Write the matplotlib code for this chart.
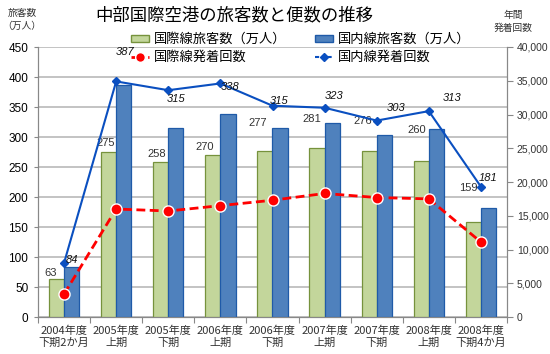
import matplotlib
matplotlib.use('Agg')
import matplotlib.pyplot as plt
from matplotlib.lines import Line2D
from matplotlib.patches import Patch

plt.rcParams['font.family'] = ['Liberation Sans', 'Noto Sans CJK JP']

# ---- data ----
categories = ['2004年度\n下期2か月', '2005年度\n上期', '2005年度\n下期',
              '2006年度\n上期', '2006年度\n下期', '2007年度\n上期',
              '2007年度\n下期', '2008年度\n上期', '2008年度\n下期4か月']
intl_pax = [63, 275, 258, 270, 277, 281, 276, 260, 159]        # 万人
dom_pax = [84, 387, 315, 338, 315, 323, 303, 313, 181]         # 万人
intl_flights = [3400, 16000, 15700, 16500, 17300, 18300, 17700, 17500, 11100]
dom_flights = [8000, 34900, 33600, 34600, 31300, 31000, 29100, 30500, 19300]

# label nudges (pixels) - the original labels were dragged by hand
intl_lbl_off = [(-6, 6), (-3, 9), (-4, 8), (-8, 8), (-7, 28),
                (-5, 29), (-6, 30), (-5, 31), (-5, 34)]
dom_lbl_off = [(8, 3), (9, 29), (8, -9), (10, -4), (7, 5),
               (9, 12), (19, 13), (23, 13), (7, 9)]

c_green, c_green_edge = '#c3d69b', '#76923c'
c_blue, c_blue_edge = '#4f81bd', '#1f5aa8'
c_red = '#ff0000'
c_line_blue = '#0a4fc0'
cjk = ['Noto Sans CJK JP']

fig = plt.figure(figsize=(5.5, 3.54), dpi=100)
ax = fig.add_axes([38 / 550, 37 / 354, 469 / 550, 270 / 354])
ax2 = ax.twinx()

x = list(range(len(categories)))
w = 0.29
ax.bar([i - w / 2 for i in x], intl_pax, width=w, color=c_green,
       edgecolor=c_green_edge, linewidth=0.9, zorder=3)
ax.bar([i + w / 2 for i in x], dom_pax, width=w, color=c_blue,
       edgecolor=c_blue_edge, linewidth=0.9, zorder=3)

ax.set_ylim(0, 450)
ax.set_yticks(range(0, 451, 50))
ax.set_xlim(-0.5, len(categories) - 0.5)
ax.yaxis.grid(True, color='#b3b3b3', linewidth=1.1, zorder=0)
ax.set_axisbelow(True)

# category boundaries carry the tick marks, centres carry the labels
ax.set_xticks([i - 0.5 for i in range(len(categories) + 1)])
ax.set_xticklabels([])
ax.set_xticks(x, minor=True)
ax.set_xticklabels(categories, minor=True, family=cjk, fontsize=8,
                   color='#333333', linespacing=1.25)
ax.tick_params(axis='x', which='major', length=4, color='#888888')
ax.tick_params(axis='x', which='minor', length=0, pad=6)
ax.tick_params(axis='y', length=3, color='#888888', labelsize=8.5, pad=4)

for s in ['top']:
    ax.spines[s].set_visible(False)
    ax2.spines[s].set_visible(False)
for s in ['left', 'bottom', 'right']:
    ax.spines[s].set_color('#888888')
    ax2.spines[s].set_color('#888888')

# lines on the right axis
ax2.plot(x, intl_flights, color=c_red, linestyle=(0, (3.2, 1.6)), linewidth=2,
         marker='o', markersize=8, markerfacecolor=c_red,
         markeredgecolor='white', markeredgewidth=1, zorder=4)
ax2.plot(x, dom_flights, color=c_line_blue, linewidth=1.5,
         marker='D', markersize=4, zorder=5)
ax2.set_ylim(0, 40000)
ax2.set_yticks(range(0, 40001, 5000))
ax2.set_yticklabels([f'{v:,}' for v in range(0, 40001, 5000)])
ax2.tick_params(axis='y', length=4, color='#888888', labelsize=7.5,
                labelcolor='#333333', pad=3)

# value labels
for i in x:
    ax2.annotate(str(intl_pax[i]), xy=(i - w / 2, intl_pax[i] * 40000 / 450),
                 xytext=intl_lbl_off[i], textcoords='offset pixels',
                 ha='center', va='center', fontsize=8, color='#333333')
    ax2.annotate(str(dom_pax[i]), xy=(i, dom_flights[i]),
                 xytext=dom_lbl_off[i], textcoords='offset pixels',
                 ha='center', va='center', fontsize=8, style='italic',
                 color='#111111', zorder=6)

# titles and axis captions
fig.text(234 / 550, 1 - 15.5 / 354, '中部国際空港の旅客数と便数の推移',
         family=cjk, fontsize=12.5, ha='center', va='center')
fig.text(22 / 550, 1 - 13 / 354, '旅客数', family=cjk, fontsize=7,
         ha='center', va='center', color='#333333')
fig.text(22 / 550, 1 - 26 / 354, '（万人）', family=cjk, fontsize=7,
         ha='center', va='center', color='#333333')
fig.text(513 / 550, 1 - 15 / 354, '年間', family=cjk, fontsize=7,
         ha='center', va='center', color='#333333')
fig.text(513 / 550, 1 - 28 / 354, '発着回数', family=cjk, fontsize=7,
         ha='center', va='center', color='#333333')

# legend (column-wise fill: green, red | blue bar, blue line)
handles = [
    Patch(facecolor=c_green, edgecolor=c_green_edge),
    Line2D([], [], color=c_red, linestyle=(0, (2, 1)), linewidth=2,
           marker='o', markersize=7, markeredgecolor='white'),
    Patch(facecolor=c_blue, edgecolor=c_blue_edge),
    Line2D([], [], color=c_line_blue, linestyle=(0, (2, 1)), linewidth=1.5,
           marker='D', markersize=4),
]
labels = ['国際線旅客数（万人）', '国際線発着回数',
          '国内線旅客数（万人）', '国内線発着回数']
fig.legend(handles, labels, loc='upper left',
           bbox_to_anchor=(131 / 550, 1 - 33 / 354), ncol=2, frameon=False,
           prop={'family': cjk, 'size': 9.5}, borderpad=0, borderaxespad=0,
           handlelength=1.4, handleheight=0.4, handletextpad=0.3,
           columnspacing=2.2, labelspacing=0.35)

fig.savefig('out.png', dpi=100)
